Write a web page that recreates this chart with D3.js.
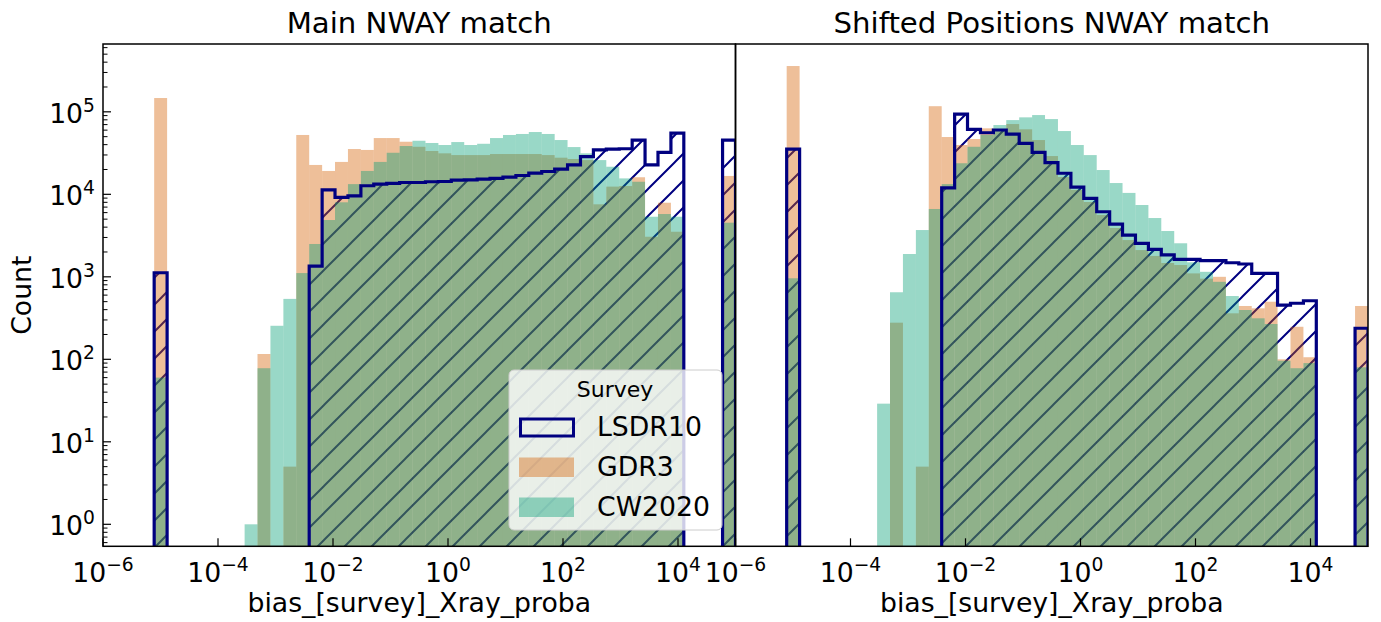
<!DOCTYPE html>
<html>
<head>
<meta charset="utf-8">
<script src="https://cdn.jsdelivr.net/npm/d3@7"></script>
<style>
  body { margin: 0; background: #fff; }
  svg { display: block; }
  text { font-family: "DejaVu Sans", sans-serif; fill: #000; }
</style>
</head>
<body>
<svg id="chart" width="1381" height="622"></svg>
<script>
// Histogram bin edges, as log10 of bias_[survey]_Xray_proba (45 bins)
const binExponents = [-5.110, -4.885, -4.661, -4.436, -4.211, -3.987, -3.762, -3.537, -3.313, -3.088,
  -2.863, -2.639, -2.414, -2.189, -1.965, -1.740, -1.515, -1.291, -1.066, -0.841,
  -0.617, -0.392, -0.167, 0.057, 0.282, 0.507, 0.731, 0.956, 1.181, 1.405,
  1.630, 1.855, 2.079, 2.304, 2.529, 2.753, 2.978, 3.203, 3.427, 3.652,
  3.877, 4.101, 4.326, 4.551, 4.775, 5.000];

const panelTitles = ["Main NWAY match", "Shifted Positions NWAY match"];
const surveys = ["LSDR10", "GDR3", "CW2020"];

// Counts per bin — main NWAY match
const mainLSDR10 = [1120, 0, 0, 0, 0, 0, 0, 0, 0, 0,
  0, 0, 1350, 11300, 9200, 9600, 12700, 13300, 13600, 13900,
  13900, 14200, 14300, 14900, 15000, 15300, 15600, 16200, 16900, 18100,
  18900, 20200, 22700, 28600, 34500, 35400, 35700, 45500, 22700, 32300,
  55300, 0, 0, 0, 45500];
const mainGDR3 = [147000, 0, 0, 0, 0, 0, 0, 0, 116, 0,
  5, 52400, 22700, 19200, 24700, 35400, 34500, 48100, 48100, 43400,
  37700, 33500, 31400, 29900, 29900, 29900, 30800, 30800, 30800, 30800,
  29900, 27800, 26800, 26000, 7570, 12400, 12600, 16100, 3060, 7910,
  3520, 0, 0, 0, 16700];
const mainCW2020 = [60, 0, 0, 0, 0, 0, 0, 1, 78, 255,
  540, 1110, 2500, 4880, 8000, 13300, 19200, 24700, 31900, 38500,
  44600, 41900, 39600, 43000, 39600, 41000, 48100, 52400, 53900, 56900,
  53900, 45500, 37400, 31400, 26000, 21600, 15600, 14200, 5350, 5770,
  5350, 0, 0, 0, 4530];

// Counts per bin — shifted positions NWAY match
const shiftedLSDR10 = [35400, 0, 0, 0, 0, 0, 0, 0, 0, 0,
  0, 0, 12000, 94000, 61400, 55800, 60200, 53800, 41500, 32300,
  24200, 18000, 12200, 8950, 6150, 4360, 3210, 2550, 2150, 1840,
  1630, 1630, 1570, 1570, 1480, 1430, 1100, 1100, 455, 478,
  513, 0, 0, 0, 238];
const shiftedGDR3 = [359000, 0, 0, 0, 0, 0, 0, 0, 278, 0,
  5, 117000, 49500, 39600, 46800, 63100, 61400, 71100, 61400, 45500,
  29100, 16200, 11300, 8070, 5610, 3910, 2790, 2110, 1790, 1470,
  1390, 1100, 950, 1000, 361, 443, 415, 499, 100, 248,
  106, 0, 0, 0, 443];
const shiftedCW2020 = [960, 0, 0, 0, 0, 0, 0, 29, 650, 1890,
  3690, 6640, 13300, 23800, 37700, 52400, 69200, 79400, 85700, 91400,
  81700, 58500, 39600, 29900, 19700, 13700, 10400, 7420, 5160, 3590,
  2550, 1500, 1150, 870, 585, 396, 314, 268, 96, 78,
  90, 0, 0, 0, 80];

const xTickExponents = [-6, -4, -2, 0, 2, 4];
const yTickExponents = [0, 1, 2, 3, 4, 5];
const xDomain = [1e-6, 1e5];
const yDomain = [0.5412, 6.64e5];

const colors = { LSDR10: "#000080", GDR3: "#D55E00", CW2020: "#009E73" };
const fillOpacity = 0.4;

const svg = d3.select("#chart");
const axTop = 44, axBottom = 546.3;
const panelRanges = [[103, 735.5], [735.5, 1368]];
const edges = binExponents.map(e => Math.pow(10, e));

const y = d3.scaleLog().domain(yDomain).range([axBottom, axTop]);

const defs = svg.append("defs");
const hatch = defs.append("pattern")
  .attr("id", "hatch")
  .attr("patternUnits", "userSpaceOnUse")
  .attr("width", 27).attr("height", 27);
hatch.append("path")
  .attr("d", "M0,27 L27,0 M-3,3 L3,-3 M24,30 L30,24")
  .attr("stroke", colors.LSDR10)
  .attr("stroke-width", 2)
  .attr("fill", "none");

// Step outline of a histogram: one sub-path per run of non-empty bins
function stepPath(counts, x) {
  const base = axBottom + 30;
  let d = "", open = false;
  counts.forEach((c, i) => {
    const x0 = x(edges[i]), x1 = x(edges[i + 1]);
    if (c > 0) {
      const yy = y(c);
      d += open ? `V${yy}` : `M${x0},${base}V${yy}`;
      d += `H${x1}`;
      open = true;
    } else if (open) {
      d += `V${base}`;
      open = false;
    }
  });
  if (open) d += `V${base}`;
  return d;
}

function superLabel(sel, exp) {
  sel.append("tspan").text("10");
  sel.append("tspan")
    .attr("font-size", "18.7px")
    .attr("dy", -11)
    .text(exp < 0 ? "\u2212" + Math.abs(exp) : String(exp));
}

const panelSeries = [
  [mainLSDR10, mainGDR3, mainCW2020],
  [shiftedLSDR10, shiftedGDR3, shiftedCW2020]
];

panelSeries.forEach((series, p) => {
  const [lsdr, gdr, cw] = series;
  const x = d3.scaleLog().domain(xDomain).range(panelRanges[p]);
  const [left, right] = panelRanges[p];

  defs.append("clipPath").attr("id", `clip${p}`)
    .append("rect")
    .attr("x", left).attr("y", axTop)
    .attr("width", right - left).attr("height", axBottom - axTop);

  const g = svg.append("g").attr("clip-path", `url(#clip${p})`);

  // LSDR10 hatch fill underneath the translucent bars
  g.append("path")
    .attr("d", stepPath(lsdr, x))
    .attr("fill", "url(#hatch)")
    .attr("stroke", "none");

  const bins = d3.range(edges.length - 1);
  [[gdr, colors.GDR3], [cw, colors.CW2020]].forEach(([vals, col]) => {
    g.append("g").selectAll("rect")
      .data(bins.filter(i => vals[i] > 0))
      .join("rect")
      .attr("x", i => x(edges[i]))
      .attr("width", i => x(edges[i + 1]) - x(edges[i]))
      .attr("y", i => y(vals[i]))
      .attr("height", i => axBottom + 2 - y(vals[i]))
      .attr("fill", col)
      .attr("fill-opacity", fillOpacity);
  });

  // LSDR10 outline on top
  g.append("path")
    .attr("d", stepPath(lsdr, x))
    .attr("fill", "none")
    .attr("stroke", colors.LSDR10)
    .attr("stroke-width", 3.2)
    .attr("stroke-linejoin", "miter");

  // frame
  svg.append("rect")
    .attr("x", left).attr("y", axTop)
    .attr("width", right - left).attr("height", axBottom - axTop)
    .attr("fill", "none").attr("stroke", "#000").attr("stroke-width", 1.5);

  // x ticks (inward) and labels
  const xt = svg.append("g");
  xTickExponents.forEach(e => {
    const xx = x(Math.pow(10, e));
    xt.append("line")
      .attr("x1", xx).attr("x2", xx)
      .attr("y1", axBottom).attr("y2", axBottom - 8)
      .attr("stroke", "#000").attr("stroke-width", 1.2);
    const t = xt.append("text")
      .attr("x", xx).attr("y", 582)
      .attr("text-anchor", "middle")
      .attr("font-size", "26.7px");
    superLabel(t, e);
  });

  svg.append("text")
    .attr("x", (left + right) / 2).attr("y", 33)
    .attr("text-anchor", "middle")
    .attr("font-size", "29.2px")
    .text(panelTitles[p]);

  svg.append("text")
    .attr("x", (left + right) / 2).attr("y", 612)
    .attr("text-anchor", "middle")
    .attr("font-size", "26.7px")
    .text("bias_[survey]_Xray_proba");
});

// y ticks on the left panel
const yAxisX = panelRanges[0][0];
const yt = svg.append("g");
yTickExponents.forEach(e => {
  const yy = y(Math.pow(10, e));
  yt.append("line")
    .attr("x1", yAxisX).attr("x2", yAxisX + 8)
    .attr("y1", yy).attr("y2", yy)
    .attr("stroke", "#000").attr("stroke-width", 1.2);
  const t = yt.append("text")
    .attr("x", 95).attr("y", yy + 11)
    .attr("text-anchor", "end")
    .attr("font-size", "26.7px");
  superLabel(t, e);
});
d3.range(-1, 6).forEach(e => {
  d3.range(2, 10).forEach(m => {
    const v = m * Math.pow(10, e);
    if (v < yDomain[0] || v > yDomain[1]) return;
    const yy = y(v);
    yt.append("line")
      .attr("x1", yAxisX).attr("x2", yAxisX + 4.5)
      .attr("y1", yy).attr("y2", yy)
      .attr("stroke", "#000").attr("stroke-width", 1);
  });
});

svg.append("text")
  .attr("transform", `translate(31,${(axTop + axBottom) / 2}) rotate(-90)`)
  .attr("text-anchor", "middle")
  .attr("font-size", "26.7px")
  .text("Count");

// Legend
const lg = svg.append("g");
lg.append("rect")
  .attr("x", 509).attr("y", 370).attr("width", 213).attr("height", 160)
  .attr("rx", 5)
  .attr("fill", "#fff").attr("fill-opacity", 0.8)
  .attr("stroke", "#cccccc").attr("stroke-width", 1);
lg.append("text")
  .attr("x", 615).attr("y", 397)
  .attr("text-anchor", "middle")
  .attr("font-size", "22px")
  .text("Survey");
surveys.forEach((s, i) => {
  const yy = 418 + i * 40;
  if (s === "LSDR10") {
    lg.append("rect")
      .attr("x", 520.5).attr("y", yy + 1)
      .attr("width", 53).attr("height", 17)
      .attr("fill", "none")
      .attr("stroke", colors.LSDR10).attr("stroke-width", 3);
  } else {
    lg.append("rect")
      .attr("x", 519).attr("y", yy - 0.5)
      .attr("width", 55).attr("height", 19.5)
      .attr("fill", colors[s]).attr("fill-opacity", fillOpacity);
  }
  lg.append("text")
    .attr("x", 597).attr("y", yy + 18)
    .attr("font-size", "26.7px")
    .text(s);
});
</script>
</body>
</html>
